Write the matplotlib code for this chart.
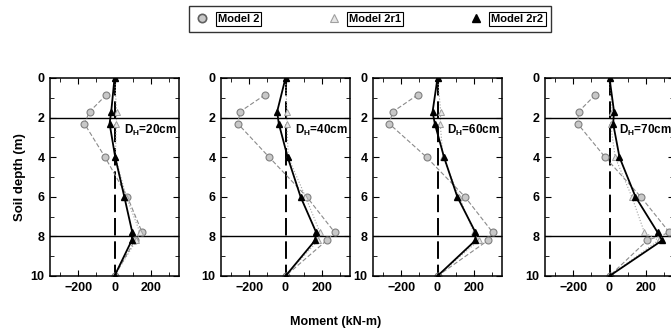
import matplotlib
matplotlib.use("Agg")
import matplotlib.pyplot as plt
from matplotlib.lines import Line2D
from matplotlib.ticker import MultipleLocator

plt.rcParams["font.family"] = ["Liberation Sans", "DejaVu Sans"]
plt.rcParams["font.weight"] = "bold"
plt.rcParams["mathtext.fontset"] = "custom"
plt.rcParams["mathtext.rm"] = "Liberation Sans:bold"
plt.rcParams["mathtext.default"] = "rm"

# depths (m) of the result points
depth = [0, 1.7, 2.3, 4, 6, 7.8, 8.2, 10]
depth_m2 = [0.85, 1.7, 2.3, 4, 6, 7.8, 8.2, 10]

panel_labels = ["D$_{H}$=20cm", "D$_{H}$=40cm", "D$_{H}$=60cm", "D$_{H}$=70cm"]

# moments (kN-m), one list per panel
model2 = [
    [-45, -137, -166, -52, 71, 152, 112, 0],
    [-113, -250, -263, -90, 117, 271, 227, 0],
    [-109, -245, -267, -60, 151, 304, 278, 0],
    [-78, -170, -176, -24, 172, 330, 208, 0],
]
model2r1 = [
    [0, 12, 10, 5, 65, 140, 120, 0],
    [0, 8, 8, 15, 110, 190, 180, 0],
    [0, 18, 15, 30, 120, 200, 227, 0],
    [0, 15, 6, 31, 123, 192, 270, 0],
]
model2r2 = [
    [0, -18, -27, 4, 54, 98, 95, 0],
    [0, -46, -37, 12, 83, 169, 163, 0],
    [0, -27, -15, 36, 109, 209, 209, 0],
    [0, 25, 20, 55, 143, 265, 290, 0],
]

W, H = 671, 332
fig = plt.figure(figsize=(W / 100, H / 100), dpi=100)

lefts = [50, 221, 373, 545]
for i, left in enumerate(lefts):
    ax = fig.add_axes([left / W, 56 / H, 129 / W, 198 / H])
    ax.axhline(2, color="black", lw=1.0)
    ax.axhline(8, color="black", lw=1.0)
    ax.plot([0, 0], [0, 10], color="black", lw=1.4, dashes=(9, 3))

    ax.plot(model2[i], depth_m2, color="#8a8a8a", lw=0.8, ls=(0, (4, 2)),
            marker="o", ms=5, mfc="#c8c8c8", mec="#808080", mew=0.8)
    ax.plot(model2r1[i], depth, color="#a0a0a0", lw=0.8, ls=":",
            marker="^", ms=4, mfc="#e6e6e6", mec="#a0a0a0", mew=0.7)
    ax.plot(model2r2[i], depth, color="black", lw=1.3,
            marker="^", ms=5, mfc="black", mec="black")

    ax.set_xlim(-355, 355)
    ax.set_ylim(10, 0)
    ax.set_xticks([-200, 0, 200])
    ax.xaxis.set_minor_locator(MultipleLocator(100))
    ax.set_yticks(range(0, 11, 2))
    ax.yaxis.set_minor_locator(MultipleLocator(1))
    ax.tick_params(which="both", direction="in", top=True, right=True,
                   labelsize=9, pad=4)
    ax.tick_params(which="major", length=4)
    ax.tick_params(which="minor", length=3)
    for lab in ax.get_xticklabels() + ax.get_yticklabels():
        lab.set_fontweight("bold")
    for sp in ax.spines.values():
        sp.set_linewidth(1.1)

    ax.text(0.57, 0.735, panel_labels[i], transform=ax.transAxes,
            fontsize=8.5, fontweight="bold", va="center", ha="left")

    if i == 0:
        ax.set_ylabel("Soil depth (m)", fontsize=9.5, fontweight="bold", labelpad=3)

fig.text(336 / W, 1 - 322 / H, "Moment (kN-m)", ha="center", va="center",
         fontsize=9, fontweight="bold")

handles = [
    Line2D([], [], ls="none", marker="o", ms=6, mfc="#c8c8c8", mec="#606060", mew=1.2),
    Line2D([], [], ls="none", marker="^", ms=6, mfc="#e6e6e6", mec="#a0a0a0", mew=0.8),
    Line2D([], [], ls="none", marker="^", ms=6, mfc="black", mec="black"),
]
leg = fig.legend(handles, ["Model 2", "Model 2r1", "Model 2r2"], ncol=3,
                 loc="center", bbox_to_anchor=(370 / W, 1 - 19 / H),
                 frameon=True, fancybox=False, edgecolor="black",
                 fontsize=8, handlelength=1.0, handletextpad=0.9,
                 columnspacing=6.2, borderpad=0.7)
leg.get_frame().set_linewidth(1.0)
for t in leg.get_texts():
    t.set_fontweight("bold")
    t.set_bbox(dict(boxstyle="square,pad=0.2", fc="white", ec="black", lw=0.8))

fig.savefig("out.png", dpi=100)
